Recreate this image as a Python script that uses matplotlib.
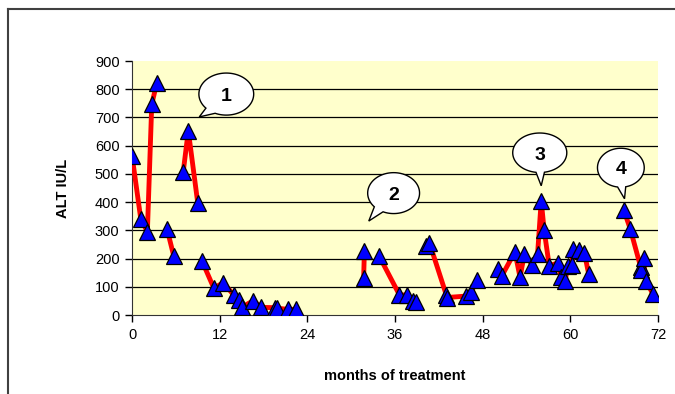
import matplotlib
matplotlib.use('Agg')
import numpy as np
import matplotlib.pyplot as plt
from matplotlib.patches import Polygon
from matplotlib.lines import Line2D

plt.rcParams['font.family'] = ['Liberation Sans', 'DejaVu Sans']

# ALT values, one list pair per connected run of the red line
runs_months = [
    [0, 1.2, 2.1, 2.7, 3.4],
    [4.8, 5.7],
    [7.0, 7.7, 9.0],
    [9.6, 11.2, 12.5, 13.9, 14.6, 15.0, 16.6, 17.7, 19.6, 19.9, 21.3, 22.4],
    [31.7, 31.8],
    [33.8, 36.6, 37.7, 38.4, 38.9],
    [40.3, 40.7, 43.0, 43.1, 45.7, 46.4, 47.2],
    [50.1, 50.6, 52.4, 53.1, 53.7, 54.8, 55.5, 56.0, 56.4, 57.1, 58.3, 58.7,
     59.3, 59.6, 60.2, 60.3, 61.2, 61.9, 62.5],
    [67.3, 68.2, 69.6, 69.7, 70.0, 70.3, 71.3],
]
runs_alt = [
    [565, 340, 295, 747, 823],
    [304, 210],
    [506, 653, 396],
    [190, 95, 115, 71, 53, 27, 51, 27, 26, 24, 20, 20],
    [132, 228],
    [210, 71, 71, 51, 47],
    [245, 256, 72, 62, 67, 80, 124],
    [162, 138, 224, 134, 216, 177, 215, 405, 301, 174, 185, 136,
     122, 174, 177, 233, 230, 221, 145],
    [372, 304, 171, 159, 201, 122, 74],
]

callout_labels = ['1', '2', '3', '4']

fig = plt.figure(figsize=(6.75, 3.94), dpi=100)
ax = fig.add_axes([0.1956, 0.2005, 0.7794, 0.6445])
ax.set_facecolor('#FFFFCC')

for m, v in zip(runs_months, runs_alt):
    ax.plot(m, v, color='#FF0000', lw=3.5, zorder=3, solid_capstyle='round')
for m, v in zip(runs_months, runs_alt):
    ax.plot(m, v, ls='none', marker='^', ms=11, mfc='#0000FF', mec='black',
            mew=0.9, zorder=4)

ax.set_xlim(0, 72)
ax.set_ylim(0, 900)
ax.set_xticks(np.arange(0, 73, 12))
ax.set_yticks(np.arange(0, 901, 100))
ax.tick_params(labelsize=10.5, length=5, width=1, direction='out', color='black', pad=4)
for y in range(100, 900, 100):
    ax.axhline(y, color='black', lw=0.9, zorder=1)
ax.spines['top'].set_visible(False)
ax.spines['right'].set_visible(False)
ax.spines['left'].set_color('#333333')
ax.spines['bottom'].set_color('#333333')

ax.set_xlabel('months of treatment', fontsize=10.5, fontweight='bold', labelpad=20)
ax.set_ylabel('ALT IU/L', fontsize=10.5, fontweight='bold', labelpad=18)

# speech bubbles: centre, width, height, tail tip, tail base angles
bubbles = [
    ((12.9, 783), 7.5, 149, (9.2, 702), (222, 246)),
    ((35.8, 432), 7.1, 145, (32.4, 333), (222, 246)),
    ((55.8, 575), 7.4, 140, (56.0, 458), (262, 280)),
    ((66.9, 522), 6.4, 138, (67.4, 412), (262, 282)),
]
for (c, w, h, tip, (a1, a2)), lab in zip(bubbles, callout_labels):
    t = np.radians(np.linspace(a2, a1 + 360, 120))
    pts = np.column_stack([c[0] + w / 2 * np.cos(t), c[1] + h / 2 * np.sin(t)])
    pts = np.vstack([pts, tip])
    ax.add_patch(Polygon(pts, closed=True, facecolor='white', edgecolor='black',
                         lw=1, zorder=5, clip_on=False))
    ax.text(c[0], c[1] - 8, lab, ha='center', va='center', fontsize=14,
            fontweight='bold', zorder=6)

# outer chart frame (left and top edges visible)
fig.add_artist(Line2D([8 / 675, 8 / 675], [0, 1 - 9 / 394], color='#404040', lw=1.5))
fig.add_artist(Line2D([8 / 675, 1], [1 - 9 / 394, 1 - 9 / 394], color='#404040', lw=1.5))

fig.savefig('out.png', dpi=100)
